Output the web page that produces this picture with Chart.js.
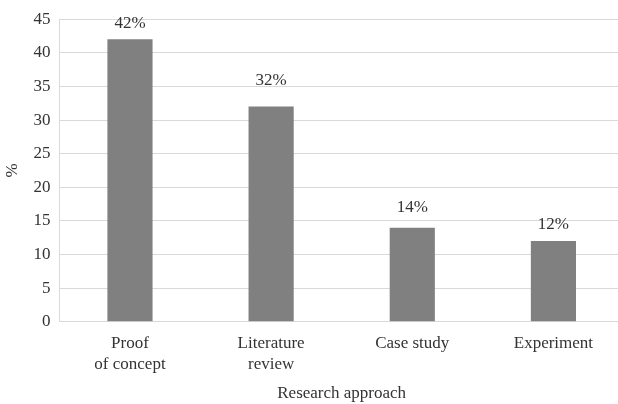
<!DOCTYPE html>
<html>
<head>
<meta charset="utf-8">
<script src="https://cdn.jsdelivr.net/npm/chart.js@4"></script>
<style>
  html, body { margin: 0; padding: 0; background: #fff; overflow: hidden; }
  #wrap { position: relative; width: 624px; height: 404px; }
</style>
</head>
<body>
<div id="wrap"><canvas id="approachChart"></canvas></div>
<script>
// Research approach share (%)
const categories = [['Proof', 'of concept'], ['Literature', 'review'], 'Case study', 'Experiment'];
const shares = [42, 32, 14, 12];
const yTicks = [0, 5, 10, 15, 20, 25, 30, 35, 40, 45];

const textColor = '#333333';
const gridColor = '#d9d9d9';
const barColor = '#808080';

Chart.defaults.font.family = '"Liberation Serif", "DejaVu Serif", serif';
Chart.defaults.font.size = 17;
Chart.defaults.color = textColor;

// value labels above the bars
const valueLabels = {
    id: 'valueLabels',
    afterDatasetsDraw(chart, args, opts) {
        const ctx = chart.ctx;
        const meta = chart.getDatasetMeta(0);
        ctx.save();
        ctx.font = '17px "Liberation Serif", serif';
        ctx.fillStyle = textColor;
        ctx.textAlign = 'center';
        ctx.textBaseline = 'middle';
        meta.data.forEach((bar, i) => {
            ctx.fillText(shares[i] + '%', bar.x, bar.y - opts.gaps[i]);
        });
        ctx.restore();
    }
};

new Chart(document.getElementById('approachChart'), {
    type: 'bar',
    data: {
        labels: categories,
        datasets: [{
            data: shares,
            backgroundColor: barColor,
            barPercentage: 0.32,
            categoryPercentage: 1
        }]
    },
    options: {
        responsive: true,
        maintainAspectRatio: false,
        animation: false,
        layout: { padding: { top: -3, right: 0, left: 2, bottom: 0 } },
        plugins: {
            legend: { display: false },
            tooltip: { enabled: false },
            valueLabels: { gaps: [16, 26, 20, 17] }
        },
        scales: {
            y: {
                min: 0,
                max: 45,
                afterBuildTicks: axis => { axis.ticks = yTicks.map(v => ({ value: v })); },
                ticks: { padding: 9, color: textColor },
                grid: { color: gridColor, drawTicks: false },
                border: { color: gridColor },
                title: { display: true, text: '%', color: textColor, padding: { top: 0, bottom: 2 } }
            },
            x: {
                ticks: { padding: 4, color: textColor, maxRotation: 0 },
                grid: { display: false },
                border: { color: gridColor },
                title: { display: true, text: 'Research approach', color: textColor, padding: { top: 5, bottom: 0 } }
            }
        }
    },
    plugins: [valueLabels]
});
</script>
</body>
</html>
